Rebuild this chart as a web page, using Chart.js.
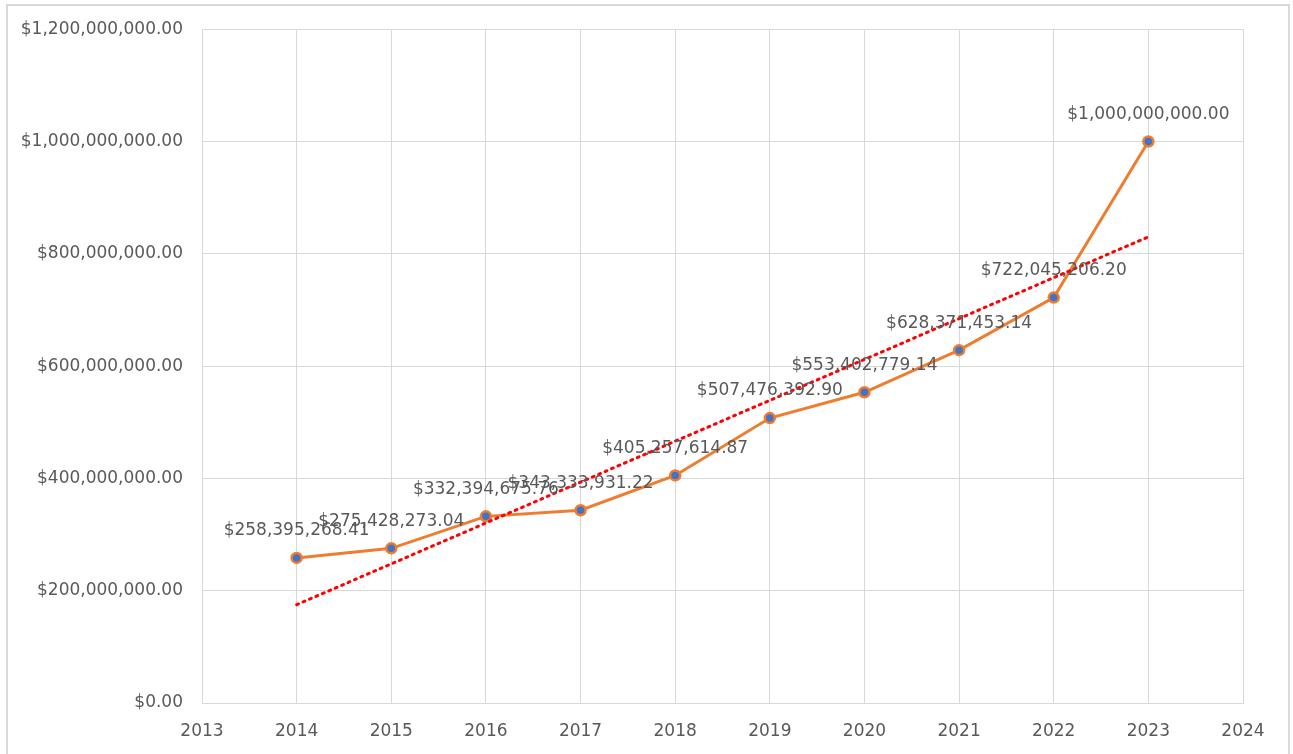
<!DOCTYPE html>
<html>
<head>
<meta charset="utf-8">
<script src="https://cdn.jsdelivr.net/npm/chart.js@4/dist/chart.umd.min.js"></script>
<style>
  html, body { margin: 0; padding: 0; background: #ffffff; }
  #wrap { position: relative; width: 1293px; height: 754px; overflow: hidden; }
  #frame { position: absolute; left: 6px; top: 4px; width: 1284px; height: 780px; border: 2px solid #d9d9d9; box-sizing: border-box; pointer-events: none; }
  canvas { position: absolute; left: 0; top: 0; }
</style>
</head>
<body>
<div id="wrap">
  <canvas id="c" width="1293" height="754"></canvas>
  <div id="frame"></div>
</div>
<script>
const years = [2014, 2015, 2016, 2017, 2018, 2019, 2020, 2021, 2022, 2023];
const values = [258395268.41, 275428273.04, 332394675.76, 343333931.22, 405257614.87,
                507476392.90, 553402779.14, 628371453.14, 722045206.20, 1000000000.00];
const xRange = [2013, 2024];
const yRange = [0, 1200000000];
const yStep = 200000000;

// Linear trendline (least squares), as Excel's "Linear" trendline
const n = years.length;
const mx = years.reduce((a, b) => a + b, 0) / n;
const my = values.reduce((a, b) => a + b, 0) / n;
let sxy = 0, sxx = 0;
for (let i = 0; i < n; i++) { sxy += (years[i] - mx) * (values[i] - my); sxx += (years[i] - mx) ** 2; }
const slope = sxy / sxx;
const intercept = my - slope * mx;
const trendYears = [years[0], years[n - 1]];

const money = v => '$' + Number(v).toLocaleString('en-US', { minimumFractionDigits: 2, maximumFractionDigits: 2 });

const FONT = 'DejaVu Sans';
const TEXT = '#595959';
const GRID = '#d9d9d9';

const labelPlugin = {
  id: 'pointLabels',
  afterDatasetsDraw(chart) {
    const meta = chart.getDatasetMeta(1);
    const ctx = chart.ctx;
    ctx.save();
    ctx.font = '17px "' + FONT + '"';
    ctx.fillStyle = TEXT;
    ctx.textAlign = 'center';
    ctx.textBaseline = 'middle';
    meta.data.forEach((pt, i) => {
      ctx.fillText(money(values[i]), pt.x, pt.y - 27);
    });
    ctx.restore();
  }
};

new Chart(document.getElementById('c'), {
  type: 'line',
  data: {
    datasets: [
      {
        label: 'Linear trend',
        data: trendYears.map(x => ({ x, y: intercept + slope * x })),
        borderColor: '#ff0000',
        borderWidth: 3,
        borderDash: [2, 5],
        borderCapStyle: 'round',
        pointRadius: 0,
        fill: false,
        order: 0
      },
      {
        label: 'Value',
        data: years.map((x, i) => ({ x, y: values[i] })),
        borderColor: '#ed7d31',
        borderWidth: 3,
        pointRadius: 5,
        pointBorderWidth: 2.5,
        pointBackgroundColor: '#4472c4',
        pointBorderColor: '#ed7d31',
        tension: 0,
        fill: false,
        order: 1
      }
    ]
  },
  options: {
    responsive: false,
    animation: false,
    events: [],
    layout: { padding: { left: 0, top: 29, right: 50, bottom: 0 } },
    plugins: { legend: { display: false }, tooltip: { enabled: false } },
    scales: {
      x: {
        type: 'linear',
        min: xRange[0], max: xRange[1],
        border: { display: true, color: GRID, width: 1 },
        grid: { color: GRID, lineWidth: 1, drawTicks: false },
        ticks: { stepSize: 1, padding: 18, color: TEXT, font: { family: FONT, size: 17 }, callback: v => String(v) },
        afterFit: s => { s.height = 51; }
      },
      y: {
        min: yRange[0], max: yRange[1],
        border: { display: true, color: GRID, width: 1 },
        grid: { color: GRID, lineWidth: 1, drawTicks: false },
        ticks: { stepSize: yStep, padding: 19, color: TEXT, font: { family: FONT, size: 17 }, callback: v => money(v) },
        afterFit: s => { s.width = 202; }
      }
    }
  },
  plugins: [labelPlugin]
});
</script>
</body>
</html>
